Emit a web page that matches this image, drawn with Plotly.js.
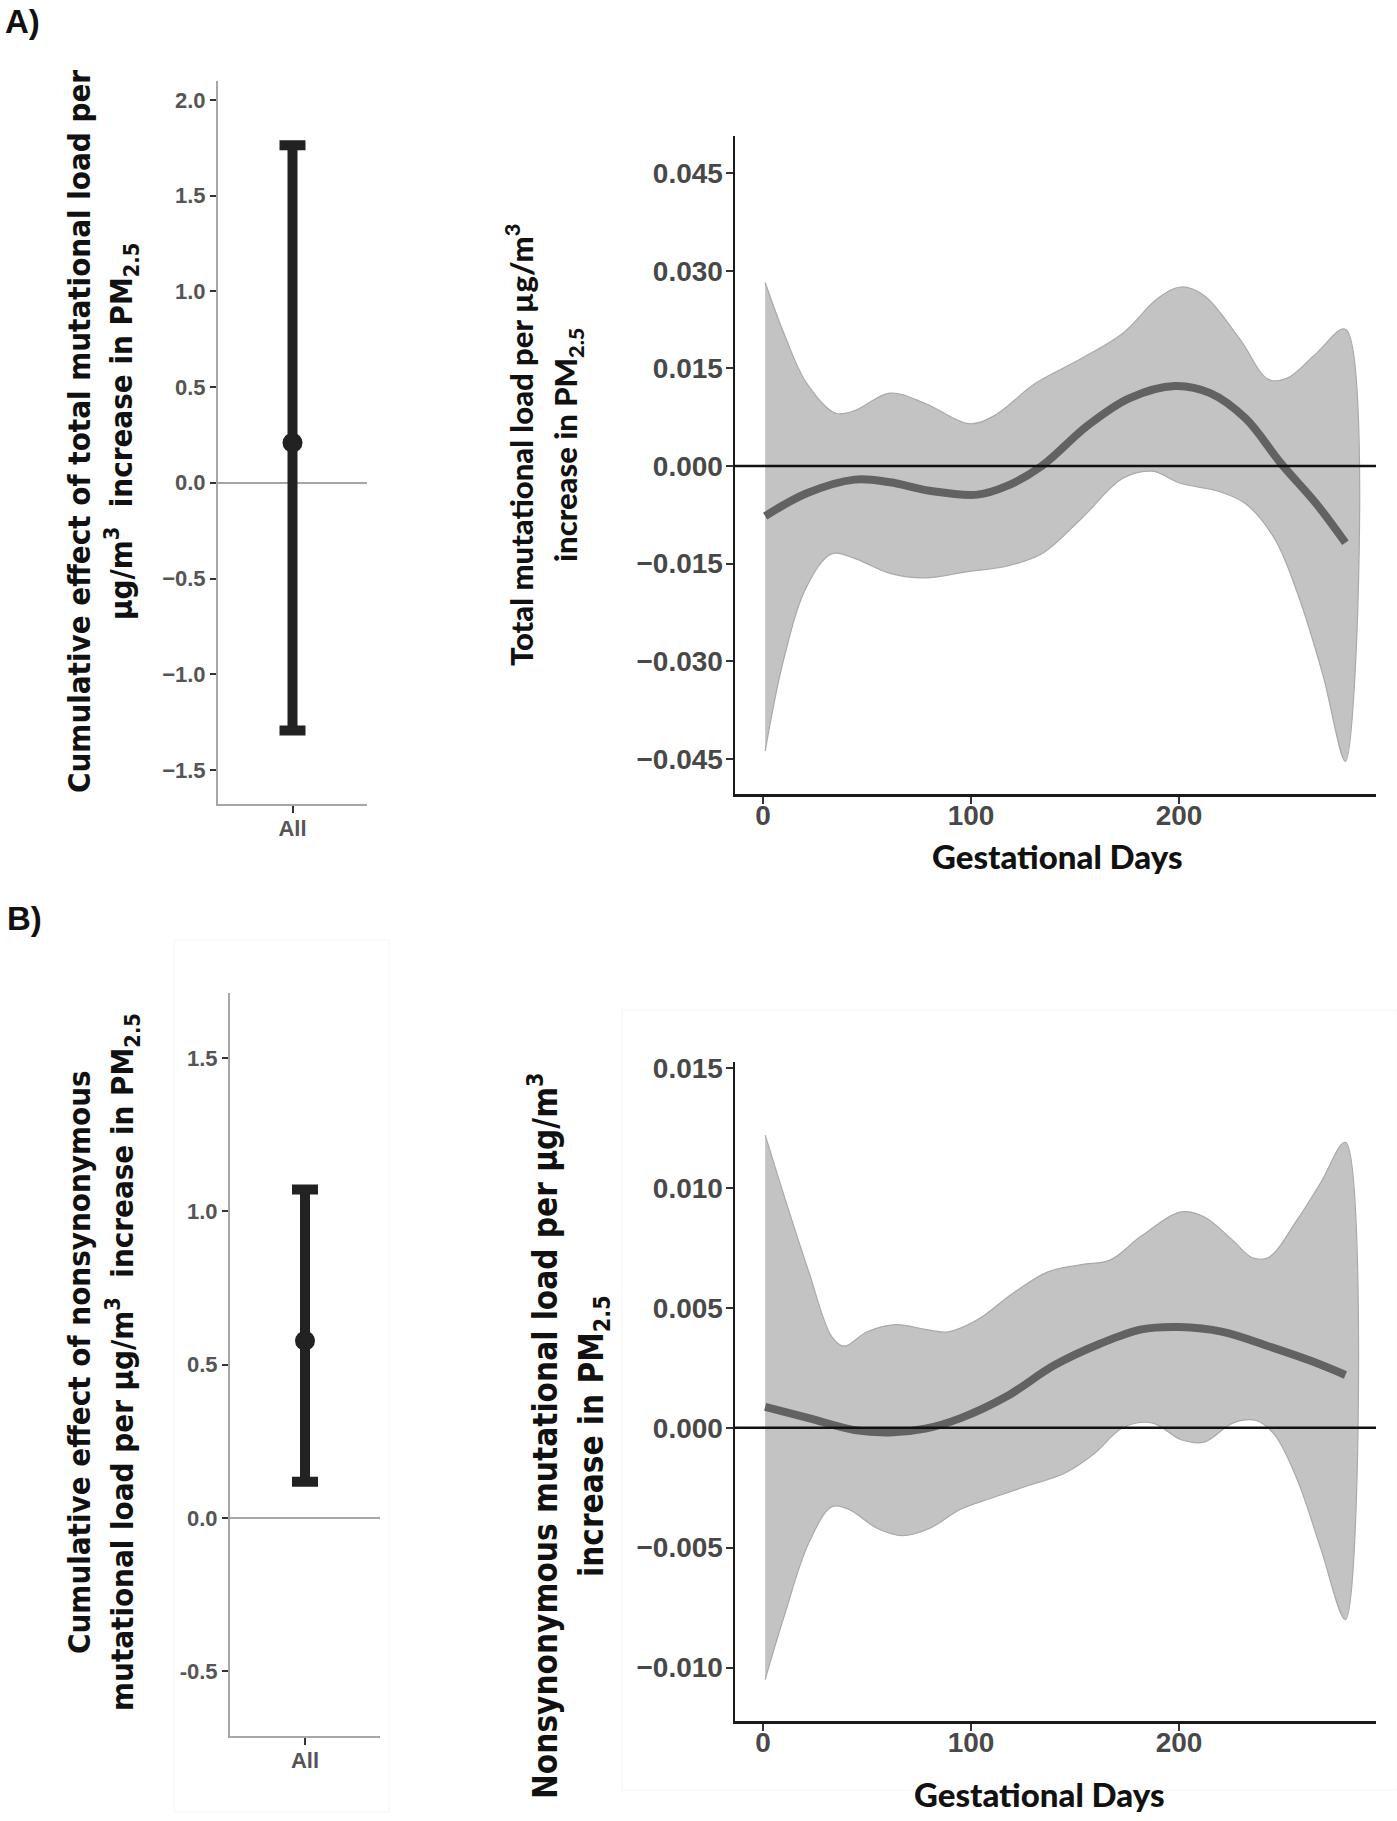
<!DOCTYPE html>
<html>
<head>
<meta charset="utf-8">
<script src="https://cdn.plot.ly/plotly-3.0.1.min.js"></script>
<style>html,body{margin:0;padding:0;background:#fff;}#chart{width:1397px;height:1821px;}</style>
</head>
<body>
<div id="chart"></div>
<script>
// ---------------- DATA ----------------
// Panel A (total mutational load)
const aCategory = ["All"];
const aEstimate = [0.209];
const aLower = [-1.294];
const aUpper = [1.763];

const aFitDays = [1, 21, 44, 61, 80, 103, 117, 134, 156, 176, 198, 215, 232, 249, 266, 280];
const aFit = [-0.0077, -0.0042, -0.0021, -0.0025, -0.0038, -0.0044, -0.0031, 0.0000, 0.0062, 0.0104, 0.0123, 0.0112, 0.0073, 0.0004, -0.0058, -0.0118];

const aUpDays = [1, 10, 21, 35, 44, 61, 78, 99, 111, 131, 153, 173, 190, 201, 212, 229, 243, 252, 266, 280];
const aUp = [0.0282, 0.0204, 0.0127, 0.0081, 0.0085, 0.0112, 0.0096, 0.0065, 0.0077, 0.0127, 0.0165, 0.0204, 0.0258, 0.0275, 0.0262, 0.0196, 0.0133, 0.0135, 0.0173, 0.0210];

const aLoDays = [1, 10, 21, 33, 44, 61, 78, 99, 117, 134, 153, 173, 187, 201, 218, 232, 246, 257, 269, 280];
const aLo = [-0.0438, -0.0296, -0.0185, -0.0135, -0.0142, -0.0165, -0.0172, -0.0162, -0.0154, -0.0135, -0.0081, -0.0019, -0.0008, -0.0027, -0.0038, -0.0058, -0.0112, -0.0196, -0.0319, -0.0454];

// Panel B (nonsynonymous mutational load)
const bCategory = ["All"];
const bEstimate = [0.578];
const bLower = [0.118];
const bUpper = [1.071];

const bFitDays = [1, 22, 44, 61, 78, 95, 117, 140, 162, 182, 200, 221, 243, 263, 280];
const bFit = [0.00087, 0.0004, -0.0001, -0.0002, -0.00004, 0.0004, 0.0013, 0.0026, 0.0035, 0.0041, 0.0042, 0.0040, 0.0034, 0.0028, 0.0022];

const bUpDays = [1, 10, 22, 33, 39, 50, 64, 78, 89, 103, 120, 137, 153, 167, 182, 201, 212, 226, 235, 243, 257, 268, 280];
const bUp = [0.0122, 0.0097, 0.0065, 0.0038, 0.0034, 0.0040, 0.0043, 0.0041, 0.0040, 0.0045, 0.0056, 0.0065, 0.0068, 0.0070, 0.0080, 0.0090, 0.0088, 0.0078, 0.0071, 0.0071, 0.0087, 0.0102, 0.0119];

const bLoDays = [1, 10, 22, 33, 41, 55, 67, 80, 95, 111, 128, 145, 159, 173, 187, 201, 212, 226, 237, 246, 257, 268, 280];
const bLo = [-0.0105, -0.0079, -0.0048, -0.0033, -0.0034, -0.0042, -0.0045, -0.0042, -0.0034, -0.0029, -0.0024, -0.0019, -0.0011, 0.0000, 0.0002, -0.0005, -0.0006, 0.0002, 0.0003, -0.0003, -0.0022, -0.0050, -0.0080];

// Tick labels
const leftATicks = [-1.5, -1.0, -0.5, 0.0, 0.5, 1.0, 1.5, 2.0];
const leftBTicks = [-0.5, 0.0, 0.5, 1.0, 1.5];
const leftBTickText = ["-0.5", "0.0", "0.5", "1.0", "1.5"];
const rightATicks = [-0.045, -0.030, -0.015, 0.000, 0.015, 0.030, 0.045];
const rightBTicks = [-0.010, -0.005, 0.000, 0.005, 0.010, 0.015];
const dayTicks = [0, 100, 200];

// ---------------- HELPERS ----------------
const W = 1397, H = 1821;
const px = x => x / W;
const py = y => 1 - y / H;

function band(upD, up, loD, lo, xa, ya) {
  return {
    x: upD.concat(loD.slice().reverse()),
    y: up.concat(lo.slice().reverse()),
    xaxis: xa, yaxis: ya, type: 'scatter', mode: 'lines',
    fill: 'toself', fillcolor: '#c3c3c3',
    line: {color: '#a9a9a9', width: 1.2, shape: 'spline', smoothing: 1},
    hoverinfo: 'skip', showlegend: false
  };
}
function fit(d, v, xa, ya) {
  return {x: d, y: v, xaxis: xa, yaxis: ya, type: 'scatter', mode: 'lines',
    line: {color: '#626262', width: 8, shape: 'spline', smoothing: 1}, showlegend: false};
}
function errPoint(cat, est, lo, hi, xa, ya) {
  return {x: cat, y: est, xaxis: xa, yaxis: ya, type: 'scatter', mode: 'markers',
    marker: {color: '#222', size: 20},
    error_y: {type: 'data', symmetric: false,
      array: hi.map((h, i) => h - est[i]), arrayminus: lo.map((l, i) => est[i] - l),
      color: '#222', thickness: 10, width: 13},
    showlegend: false};
}

const traces = [
  errPoint(aCategory, aEstimate, aLower, aUpper, 'x', 'y'),
  band(aUpDays, aUp, aLoDays, aLo, 'x2', 'y2'),
  fit(aFitDays, aFit, 'x2', 'y2'),
  errPoint(bCategory, bEstimate, bLower, bUpper, 'x3', 'y3'),
  band(bUpDays, bUp, bLoDays, bLo, 'x4', 'y4'),
  fit(bFitDays, bFit, 'x4', 'y4')
];

const leftTickFont = {family: 'Liberation Sans, Arial, sans-serif', size: 22, color: '#555', weight: 'bold'};
const rightTickFont = {family: 'Liberation Sans, Arial, sans-serif', size: 28, color: '#484848', weight: 'bold'};

function leftX(d) {
  return {domain: d, type: 'category', range: [-0.5, 0.5], showline: true, linecolor: '#a6a6a6', linewidth: 2,
    ticks: 'outside', ticklen: 7, tickwidth: 2, tickcolor: '#333', tickfont: leftTickFont, ticklabelstandoff: -3,
    showgrid: false, zeroline: false, fixedrange: true};
}
function leftY(d, r, tv, tt) {
  const o = {domain: d, range: r, tickvals: tv, tickformat: '.1f', showline: true, linecolor: '#a6a6a6', linewidth: 2,
    ticks: 'outside', ticklen: 6, tickwidth: 2, tickcolor: '#333', tickfont: leftTickFont, ticklabelstandoff: 0,
    showgrid: false, zeroline: true, zerolinecolor: '#a6a6a6', zerolinewidth: 2, fixedrange: true};
  if (tt) o.ticktext = tt;
  return o;
}
function rightX(d) {
  return {domain: d, range: [-13.5, 294.7], tickvals: dayTicks, showline: true, linecolor: '#1a1a1a', linewidth: 2.5,
    ticks: 'outside', ticklen: 7, tickwidth: 2, tickcolor: '#333', tickfont: rightTickFont, ticklabelstandoff: -12,
    showgrid: false, zeroline: false, fixedrange: true};
}
function rightY(d, r, tv) {
  return {domain: d, range: r, tickvals: tv, tickformat: '.3f', showline: true, linecolor: '#1a1a1a', linewidth: 2.5,
    ticks: 'outside', ticklen: 7, tickwidth: 2, tickcolor: '#333', tickfont: rightTickFont, ticklabelstandoff: -3,
    showgrid: false, zeroline: false, fixedrange: true};
}

const condFont = {family: 'Liberation Sans Narrow, DejaVu Sans Condensed, Arial Narrow, sans-serif', size: 31, color: '#111', weight: 'bold'};
const condFontB = {family: 'Liberation Sans Narrow, DejaVu Sans Condensed, Arial Narrow, sans-serif', size: 33, color: '#111', weight: 'bold'};
const titleFont = {family: 'Lato, Open Sans, sans-serif', size: 31, color: '#111', weight: 900};
const xTitleFont = {family: 'Lato, Open Sans, sans-serif', size: 33, color: '#111', weight: 900};

function vtext(text, x, y, font) {
  return {text: text, x: px(x), y: py(y), xref: 'paper', yref: 'paper', showarrow: false,
    textangle: -90, xanchor: 'center', yanchor: 'middle', font: font};
}
function htext(text, x, y, font) {
  return {text: text, x: px(x), y: py(y), xref: 'paper', yref: 'paper', showarrow: false,
    xanchor: 'center', yanchor: 'middle', font: font};
}

const labelFont = {family: 'Liberation Sans, Arial, sans-serif', size: 33, color: '#111', weight: 'bold'};
const annotations = [
  htext('A)', 22, 22, labelFont),
  htext('B)', 24, 918, labelFont),
  vtext('Cumulative effect of total mutational load per', 79, 432, condFont),
  vtext('µg/m<sup>3</sup>  increase in PM<sub>2.5</sub>', 122, 432, condFont),
  vtext('Total mutational load per µg/m<sup>3</sup>', 519, 445, titleFont),
  vtext('increase in PM<sub>2.5</sub>', 567, 445, titleFont),
  vtext('Cumulative effect of nonsynonymous', 79, 1362, condFont),
  vtext('mutational load per µg/m<sup>3</sup>  increase in PM<sub>2.5</sub>', 122, 1362, condFont),
  vtext('Nonsynonymous mutational load per µg/m<sup>3</sup>', 543, 1436, condFontB),
  vtext('increase in PM<sub>2.5</sub>', 593, 1436, condFontB),
  htext('Gestational Days', 1057, 856, xTitleFont),
  htext('Gestational Days', 1039, 1794, xTitleFont)
];

const shapes = [
  {type: 'line', xref: 'x2 domain', yref: 'y2', x0: 0, x1: 1, y0: 0, y1: 0, line: {color: '#111', width: 2.5}, layer: 'above'},
  {type: 'line', xref: 'x4 domain', yref: 'y4', x0: 0, x1: 1, y0: 0, y1: 0, line: {color: '#111', width: 2.5}, layer: 'above'},
  // faint panel frames present in the source image
  {type: 'rect', xref: 'paper', yref: 'paper', x0: px(174), x1: px(389), y0: py(1812), y1: py(940), line: {color: '#f4f4f4', width: 1}, layer: 'below'},
  {type: 'rect', xref: 'paper', yref: 'paper', x0: px(622), x1: px(1397), y0: py(1790), y1: py(1010), line: {color: '#f4f4f4', width: 1}, layer: 'below'}
];

const layout = {
  width: W, height: H,
  margin: {l: 0, r: 0, t: 0, b: 0},
  paper_bgcolor: '#fff', plot_bgcolor: 'rgba(0,0,0,0)',
  showlegend: false,
  xaxis: Object.assign(leftX([px(218), px(367)]), {anchor: 'y'}),
  yaxis: Object.assign(leftY([py(804), py(81)], [-1.678, 2.099], leftATicks), {anchor: 'x'}),
  xaxis2: Object.assign(rightX([px(735), px(1376)]), {anchor: 'y2'}),
  yaxis2: Object.assign(rightY([py(794), py(136)], [-0.0504, 0.0507], rightATicks), {anchor: 'x2'}),
  xaxis3: Object.assign(leftX([px(230), px(380)]), {anchor: 'y3'}),
  yaxis3: Object.assign(leftY([py(1736), py(993)], [-0.711, 1.712], leftBTicks, leftBTickText), {anchor: 'x3'}),
  xaxis4: Object.assign(rightX([px(735), px(1376)]), {anchor: 'y4'}),
  yaxis4: Object.assign(rightY([py(1721), py(1062)], [-0.01223, 0.01525], rightBTicks), {anchor: 'x4'}),
  annotations: annotations,
  shapes: shapes
};

Plotly.newPlot('chart', traces, layout, {displayModeBar: false, staticPlot: true});
</script>
</body>
</html>
